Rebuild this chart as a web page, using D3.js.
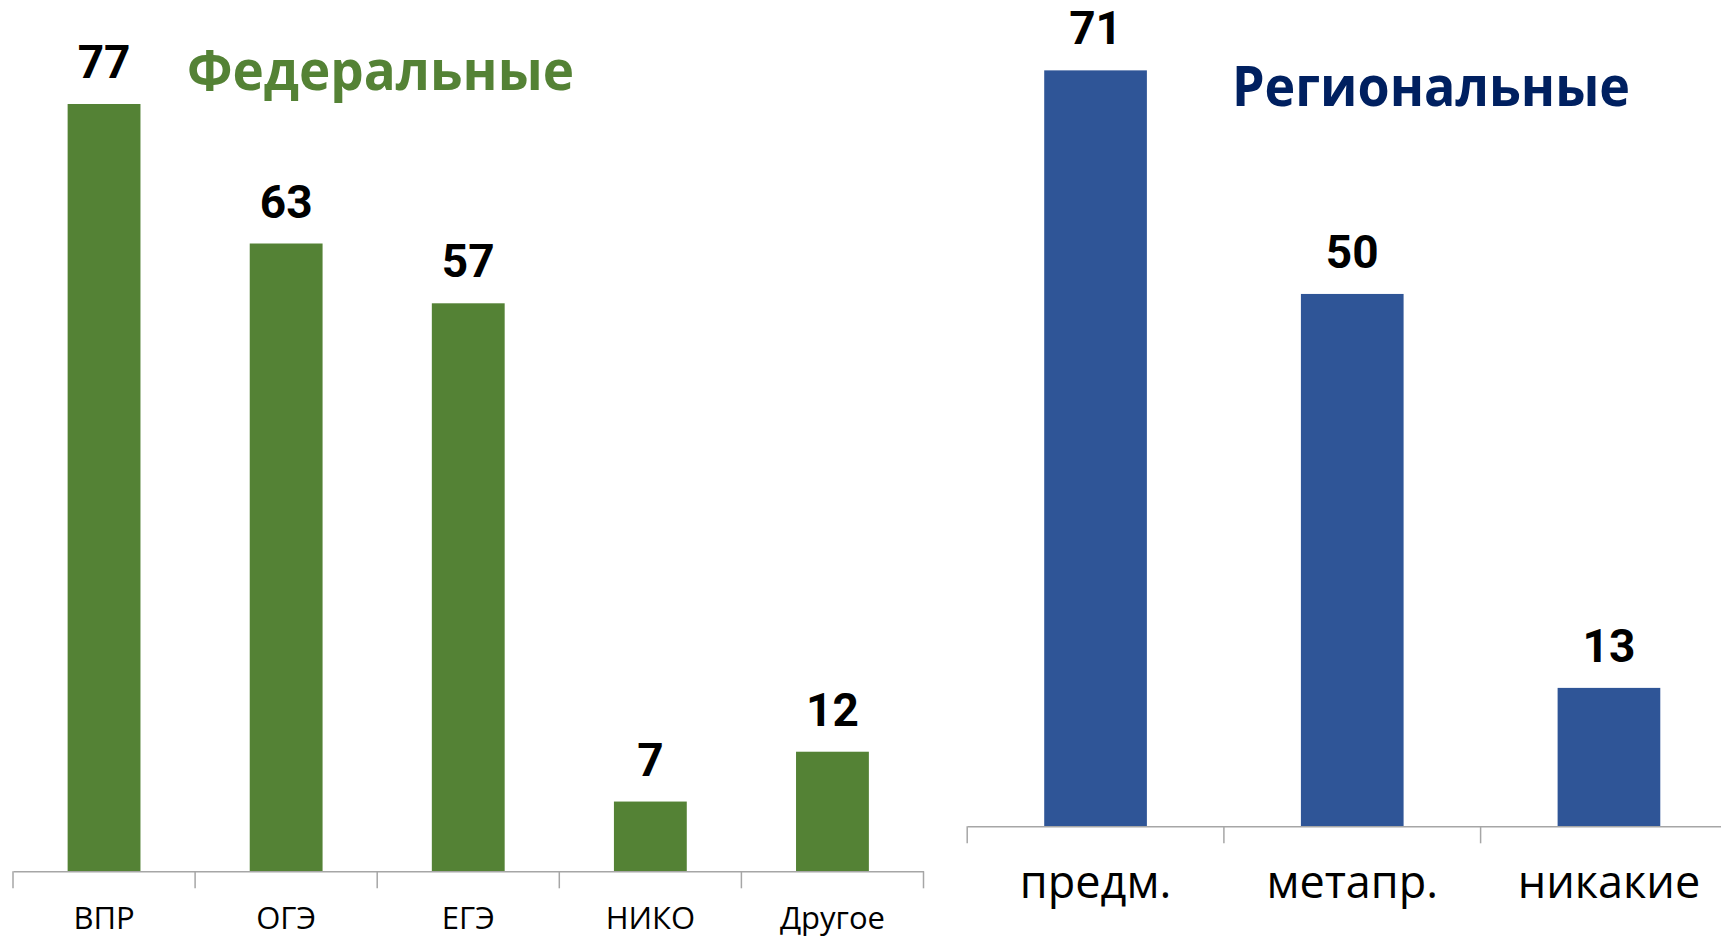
<!DOCTYPE html>
<html>
<head>
<meta charset="utf-8">
<script src="https://cdnjs.cloudflare.com/ajax/libs/d3/7.8.5/d3.min.js"></script>
<style>
  html, body { margin: 0; padding: 0; background: #fff; }
  svg text { font-family: "Open Sans", "Noto Sans", sans-serif; }
</style>
</head>
<body>
<div id="chart"></div>
<script>
// federal tests
const fedCategories = ["ВПР", "ОГЭ", "ЕГЭ", "НИКО", "Другое"];
const fedValues = [77, 63, 57, 7, 12];
// regional tests
const regCategories = ["предм.", "метапр.", "никакие"];
const regValues = [71, 50, 13];

const W = 1721, H = 938;

const svg = d3.select("#chart")
  .append("svg")
  .attr("width", W)
  .attr("height", H);

function drawPanel(opt) {
  const g = svg.append("g");

  var x = d3.scaleBand()
    .domain(opt.categories)
    .range([opt.left, opt.right])
    .paddingInner(0.6)
    .paddingOuter(0.3);

  var y = d3.scaleLinear()
    .domain([0, 80])
    .range([opt.base, opt.base - 80 * opt.pxPerUnit]);

  // bars
  g.selectAll("rect.bar")
    .data(opt.values)
    .enter()
    .append("rect")
    .attr("class", "bar")
    .attr("x", (d, i) => x(opt.categories[i]))
    .attr("y", d => y(d))
    .attr("width", x.bandwidth())
    .attr("height", d => y(0) - y(d))
    .attr("fill", opt.color);

  // value labels
  g.selectAll("text.val")
    .data(opt.values)
    .enter()
    .append("text")
    .attr("class", "val")
    .attr("x", (d, i) => x(opt.categories[i]) + x.bandwidth() / 2)
    .attr("y", d => y(d) - 26)
    .attr("text-anchor", "middle")
    .style("font-family", "Roboto, 'Open Sans', sans-serif")
    .style("font-size", "46px")
    .style("font-weight", "700")
    .attr("fill", "#000")
    .text(d => d);

  // axis line + category labels
  var axis = g.append("g")
    .attr("transform", "translate(0," + y(0) + ")")
    .call(d3.axisBottom(x).tickSize(0).tickSizeOuter(0).tickPadding(opt.labelPad));
  axis.select(".domain").attr("stroke", "#a6a6a6").attr("stroke-width", 1.5);
  axis.selectAll("text")
    .attr("fill", "#000")
    .style("font-size", opt.labelSize + "px")
    .style("font-family", "'Open Sans', 'Noto Sans', sans-serif");

  // boundary tick marks between categories
  var b = d3.scaleLinear()
    .domain([0, opt.categories.length])
    .range([opt.left, opt.right]);
  g.selectAll("line.tick-b")
    .data(d3.range(opt.categories.length + 1))
    .enter()
    .append("line")
    .attr("class", "tick-b")
    .attr("x1", d => b(d))
    .attr("x2", d => b(d))
    .attr("y1", y(0))
    .attr("y2", y(0) + 17)
    .attr("stroke", "#a6a6a6")
    .attr("stroke-width", 1.5);

  // title
  g.append("text")
    .attr("x", opt.titleX)
    .attr("y", opt.titleY)
    .attr("textLength", opt.titleLen)
    .attr("lengthAdjust", "spacingAndGlyphs")
    .style("font-size", "56px")
    .style("font-weight", "700")
    .attr("fill", opt.titleColor)
    .text(opt.title);
}

drawPanel({
  categories: fedCategories,
  values: fedValues,
  left: 13, right: 923.5,
  base: 871.3, pxPerUnit: 9.965,
  color: "#548235",
  labelSize: 31, labelPad: 36,
  title: "Федеральные", titleX: 187, titleY: 90, titleLen: 387,
  titleColor: "#548235"
});

drawPanel({
  categories: regCategories,
  values: regValues,
  left: 967.2, right: 1737.3,
  base: 826.3, pxPerUnit: 10.647,
  color: "#2f5597",
  labelSize: 45, labelPad: 40,
  title: "Региональные", titleX: 1232, titleY: 106, titleLen: 398,
  titleColor: "#002060"
});
</script>
</body>
</html>
